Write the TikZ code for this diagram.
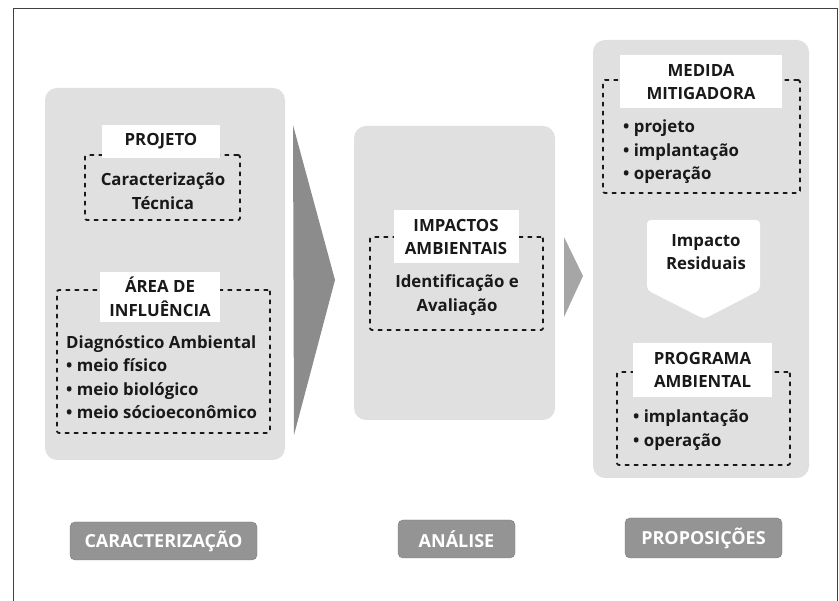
\documentclass[tikz,border=0pt]{standalone}
\usepackage{fontspec}
\setmainfont{Open Sans}
\usetikzlibrary{calc}
\begin{document}
\begin{tikzpicture}[x=1pt,y=-1pt,
  panel/.style={fill=black!12, rounded corners=12pt, draw=none, inner sep=0pt},
  dbox/.style={draw=black!90, line width=1.8pt, dash pattern=on 4.5pt off 4.5pt, rounded corners=2pt, inner sep=0pt},
  lbl/.style={fill=white, inner sep=0pt, align=center, font=\bfseries\fontsize{16.8}{23.5}\selectfont, text=black!90},
  txt/.style={inner sep=0pt, font=\bfseries\fontsize{16.8}{23.5}\selectfont, text=black!90},
  tag/.style={fill=black!42, draw=black!52, rounded corners=5pt, inner sep=0pt, text=white, font=\bfseries\fontsize{18}{20}\selectfont},
  bigarrow/.style={fill=black!45},
  smallarrow/.style={fill=black!35},
  whitearrow/.style={fill=white, rounded corners=4pt}
]
\useasboundingbox (0,0) rectangle (839,601);
\draw[black!75, line width=0.9pt] (13,601) -- (13,8) -- (837,8) -- (837,601);

% panels
\node[panel, minimum width=240pt, minimum height=372pt] (pleft) at (165,274) {};
\node[panel, minimum width=201pt, minimum height=294pt] (pmid) at (454.5,273) {};
\node[panel, minimum width=216pt, minimum height=438pt] (pright) at (701,259) {};

% arrows between panels
\coordinate (a1t) at (293,125);
\coordinate (a1p) at (335,280);
\coordinate (a1b) at (294,435);
\fill[bigarrow] (a1t) -- (a1p) -- (a1b) -- cycle;
\coordinate (a2t) at (564,237);
\coordinate (a2p) at (583,276);
\coordinate (a2b) at (564,317);
\fill[smallarrow] (a2t) -- (a2p) -- (a2b) -- cycle;

% white down arrow in right panel
\coordinate (w1) at (647,220);
\coordinate (w2) at (760,220);
\coordinate (w3) at (760,290);
\coordinate (w4) at (704,319);
\coordinate (w5) at (647,290);
\fill[whitearrow] (w1) -- (w2) -- (w3) -- (w4) -- (w5) -- cycle;

% dashed boxes
\node[dbox, minimum width=155pt, minimum height=65pt] (bproj) at (162.5,187.5) {};
\node[dbox, minimum width=213pt, minimum height=143pt] (barea) at (163.5,361.5) {};
\node[dbox, minimum width=173pt, minimum height=93pt] (bimp) at (456.5,283.5) {};
\node[dbox, minimum width=197pt, minimum height=113pt] (bmed) at (701.5,136.5) {};
\node[dbox, minimum width=173pt, minimum height=93pt] (bprog) at (703.5,418.5) {};

% white title labels
\node[lbl, minimum width=118pt, minimum height=33pt] (lproj) at (161,141.5) {PROJETO};
\node[lbl, minimum width=120pt, minimum height=50pt] (larea) at (160,297) {ÁREA DE\\INFLUÊNCIA};
\node[lbl, minimum width=125pt, minimum height=53pt] (limp) at (456,237) {IMPACTOS\\AMBIENTAIS};
\node[lbl, minimum width=162pt, minimum height=53pt] (lmed) at (701,82) {MEDIDA\\MITIGADORA};
\node[lbl, minimum width=139pt, minimum height=54pt] (lprog) at (702.5,370) {PROGRAMA\\AMBIENTAL};

% body texts
\node[txt, align=center] (tproj) at (163,191) {Caracterização\\Técnica};
\node[txt, align=left, anchor=west] (tarea) at (66,377) {Diagnóstico Ambiental\\• meio físico\\• meio biológico\\• meio sócioeconômico};
\node[txt, align=center] (timp) at (457,295) {Identificação e\\Avaliação};
\node[txt, align=left, anchor=west] (tmed) at (623,152) {• projeto\\• implantação\\• operação};
\node[txt, align=center] (tres) at (706,252) {Impacto\\Residuais};
\node[txt, align=left, anchor=west] (tprog) at (633,430) {• implantação\\• operação};

% bottom tags
\node[tag, minimum width=187pt, minimum height=38pt] (gcar) at (163.5,541) {CARACTERIZAÇÃO};
\node[tag, minimum width=117pt, minimum height=38pt] (gana) at (456.5,539) {ANÁLISE};
\node[tag, minimum width=157pt, minimum height=40pt] (gpro) at (703.5,538) {PROPOSIÇÕES};
\end{tikzpicture}
\end{document}
